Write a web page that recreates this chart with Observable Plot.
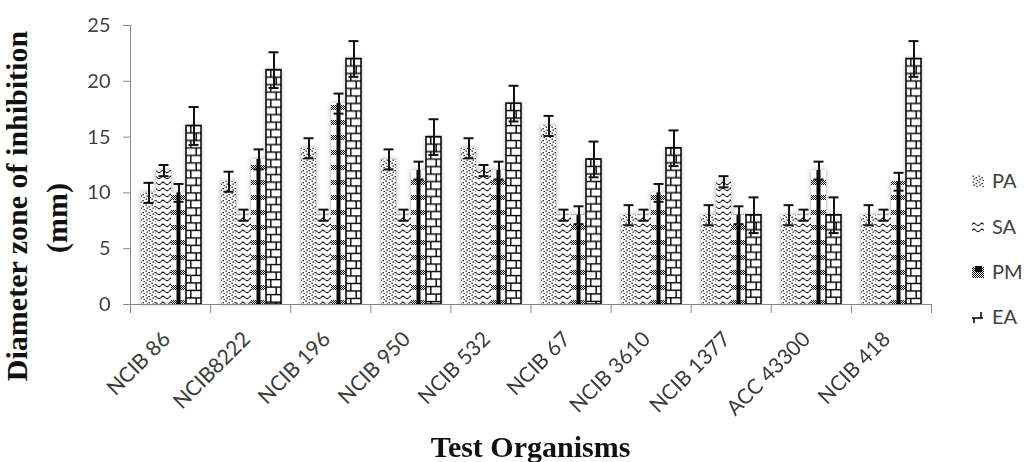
<!DOCTYPE html>
<html><head><meta charset="utf-8">
<script src="https://cdn.jsdelivr.net/npm/d3@7"></script>
<script src="https://cdn.jsdelivr.net/npm/@observablehq/plot@0.6"></script>
<style>body{margin:0;background:#fff} svg{display:block}</style>
</head><body><div id="chart"></div>
<script>
// ---- data ----
const organisms = ["NCIB 86","NCIB8222","NCIB 196","NCIB 950","NCIB 532","NCIB 67","NCIB 3610","NCIB 1377","ACC 43300","NCIB 418"];
const series = ["PA","SA","PM","EA"];
const PA = [10, 11, 14, 13, 14, 16, 8, 8, 8, 8];
const SA = [12, 8, 8, 8, 12, 8, 8, 11, 8, 8];
const PM = [10, 13, 18, 12, 12, 8, 10, 8, 12, 11];
const EA = [16, 21, 22, 15, 18, 13, 14, 8, 8, 22];
const PA_err = [0.9, 0.9, 0.9, 0.9, 0.9, 0.9, 0.9, 0.9, 0.9, 0.9];
const SA_err = [0.5, 0.5, 0.5, 0.5, 0.5, 0.5, 0.5, 0.5, 0.5, 0.5];
const PM_err = [0.8, 0.9, 0.9, 0.8, 0.8, 0.8, 0.8, 0.8, 0.8, 0.8];
const EA_err = [1.7, 1.6, 1.6, 1.6, 1.6, 1.6, 1.6, 1.6, 1.6, 1.6];
const yTicks = [0, 5, 10, 15, 20, 25];
const xTitle = "Test Organisms";
const yTitle = ["Diameter zone of inhibition", "(mm)"];

const table = {PA:[PA,PA_err], SA:[SA,SA_err], PM:[PM,PM_err], EA:[EA,EA_err]};
const data = [];
organisms.forEach((o, i) => series.forEach(s => data.push({organism: o, series: s, value: table[s][0][i], err: table[s][1][i]})));
const fills = {PA: "url(#pat-pa)", SA: "url(#pat-sa)", PM: "url(#pat-pm)", EA: "url(#pat-ea)"};

const chart = Plot.plot({
  width: 1025, height: 462,
  marginLeft: 130, marginRight: 94, marginTop: 25, marginBottom: 158,
  style: {fontFamily: "Lato", background: "#fff", overflow: "visible"},
  fx: {domain: organisms, padding: 0, axis: null},
  x: {domain: series, paddingInner: 0, paddingOuter: 2/3, axis: null},
  y: {domain: [0, 25], axis: null},
  color: {type: "ordinal", domain: series, range: series.map(s => fills[s])},
  marks: [
    Plot.barY(data, {fx: "organism", x: "series", y: "value", fill: "series"}),
    Plot.barY(data.filter(d => d.series === "PM"), {fx: "organism", x: "series", y: "value", fill: "#000", insetLeft: 5.5, insetRight: 5.5}),
    Plot.barY(data.filter(d => d.series === "EA"), {fx: "organism", x: "series", y: "value", fill: "none", stroke: "#000", strokeWidth: 1.5}),
    Plot.ruleX(data, {fx: "organism", x: "series", y1: d => d.value - d.err, y2: d => d.value + d.err, stroke: "#111", strokeWidth: 2}),
    Plot.tickY(data, {fx: "organism", x: "series", y: d => d.value + d.err, stroke: "#111", strokeWidth: 2, insetLeft: 2.5, insetRight: 2.5}),
    Plot.tickY(data, {fx: "organism", x: "series", y: d => d.value - d.err, stroke: "#111", strokeWidth: 2, insetLeft: 2.5, insetRight: 2.5}),
    Plot.axisY({ticks: yTicks, tickSize: 8, tickPadding: 13, stroke: "#888", fill: "#404040", fontSize: 20, label: null}),
    Plot.text(organisms, {fx: d => d, text: d => d, frameAnchor: "bottom", rotate: -45, textAnchor: "end", dx: 0, dy: 36, fontSize: 21, fill: "#3a3a3a"})
  ]
});
document.getElementById("chart").appendChild(chart);

// ---- decorations derived from the plot's scales ----
const svg = d3.select(chart);
const ys = chart.scale("y"), fxs = chart.scale("fx");
const y = d3.scaleLinear().domain(ys.domain).range(ys.range);
const fx = d3.scaleBand().domain(fxs.domain).range(fxs.range).padding(0);
const defs = svg.insert("defs", ":first-child");

// PA dots
const pa = defs.append("pattern").attr("id", "pat-pa").attr("patternUnits", "userSpaceOnUse").attr("width", 6).attr("height", 6);
pa.append("rect").attr("width", 6).attr("height", 6).attr("fill", "#fff");
[[0.5,0.5],[3.5,2],[1.5,3.5],[4.5,5]].forEach(([cx, cy]) => pa.append("rect").attr("x", cx).attr("y", cy).attr("width", 1.3).attr("height", 1.3).attr("fill", "#000"));
// SA waves
const sa = defs.append("pattern").attr("id", "pat-sa").attr("patternUnits", "userSpaceOnUse").attr("width", 8).attr("height", 6);
sa.append("rect").attr("width", 8).attr("height", 6).attr("fill", "#fff");
sa.append("path").attr("d", "M0.3,3.5 Q2,0.8 3.7,3.5 M4.3,3.5 Q6,6 7.7,3.5").attr("fill", "none").attr("stroke", "#000").attr("stroke-width", 1.1);
// PM checker bands
const pm = defs.append("pattern").attr("id", "pat-pm").attr("patternUnits", "userSpaceOnUse").attr("width", 2).attr("height", 15);
pm.append("rect").attr("width", 2).attr("height", 15).attr("fill", "#fff");
for (let r = 0; r < 5; r++) pm.append("rect").attr("x", r % 2).attr("y", r).attr("width", 1).attr("height", 1).attr("fill", "#000");
// EA bricks, one tile per bar
const eaRect = svg.selectAll("rect").filter(function() { return this.getAttribute("fill") === "url(#pat-ea)"; }).node();
const bw = eaRect ? +eaRect.getAttribute("width") : 15;
const ea = defs.append("pattern").attr("id", "pat-ea").attr("patternUnits", "objectBoundingBox").attr("width", 1).attr("height", 1);
ea.append("rect").attr("width", bw).attr("height", 400).attr("fill", "#fff");
const rh = 7.5;
for (let r = 0; r < 50; r++) {
  ea.append("line").attr("x1", 0).attr("x2", bw).attr("y1", r * rh).attr("y2", r * rh).attr("stroke", "#000").attr("stroke-width", 1.4);
  const vx = (r % 2 ? 0.68 : 0.32) * bw;
  ea.append("line").attr("x1", vx).attr("x2", vx).attr("y1", r * rh).attr("y2", (r + 1) * rh).attr("stroke", "#000").attr("stroke-width", 1.4);
}
// legend patterns
const ls = defs.append("pattern").attr("id", "leg-pm").attr("patternUnits", "userSpaceOnUse").attr("width", 2).attr("height", 2);
ls.append("rect").attr("width", 2).attr("height", 2).attr("fill", "#fff");
ls.append("rect").attr("width", 1).attr("height", 1).attr("fill", "#000");
ls.append("rect").attr("x", 1).attr("y", 1).attr("width", 1).attr("height", 1).attr("fill", "#000");

// glow on bars
svg.select('g[aria-label="bar"]').style("filter", "drop-shadow(0px 0px 2px rgba(0,0,0,0.35))");

// axis lines
const ax = svg.append("g").attr("stroke", "#888").attr("stroke-width", 1);
const x0 = fxs.range[0], x1 = fxs.range[1];
ax.append("line").attr("x1", x0 + 0.5).attr("x2", x0 + 0.5).attr("y1", y(25)).attr("y2", y(0));
ax.append("line").attr("x1", x0).attr("x2", x1).attr("y1", y(0) + 0.5).attr("y2", y(0) + 0.5);
[...organisms.map(o => fx(o)), x1].forEach(bx => ax.append("line").attr("x1", bx + 0.5).attr("x2", bx + 0.5).attr("y1", y(0)).attr("y2", y(0) + 9));

// titles
const serif = "'Liberation Serif','Times New Roman',serif";
svg.append("text").attr("x", (x0 + x1) / 2).attr("y", 457).attr("text-anchor", "middle")
  .attr("font-family", serif).attr("font-weight", "bold").attr("font-size", 30).attr("fill", "#111").text(xTitle);
svg.append("text").attr("transform", "translate(27,206) rotate(-90)").attr("text-anchor", "middle")
  .attr("font-family", serif).attr("font-weight", "bold").attr("font-size", 30).attr("fill", "#111").text(yTitle[0]);
svg.append("text").attr("transform", "translate(67,218) rotate(-90)").attr("text-anchor", "middle")
  .attr("font-family", serif).attr("font-weight", "bold").attr("font-size", 30).attr("fill", "#111").text(yTitle[1]);

// legend
const lg = svg.append("g").attr("font-family", "Lato").attr("font-size", 20).attr("fill", "#404040").attr("text-anchor", "start");
const legY = [181, 227, 272, 317];
series.forEach((s, i) => {
  const g = lg.append("g").attr("transform", `translate(972,${legY[i]})`);
  if (s === "PA") g.append("rect").attr("x", 0).attr("y", -6).attr("width", 12).attr("height", 12).attr("fill", "url(#pat-pa)");
  if (s === "SA") g.append("rect").attr("x", 0).attr("y", -6).attr("width", 12).attr("height", 12).attr("fill", "url(#pat-sa)");
  if (s === "PM") {
    g.append("rect").attr("x", 0).attr("y", -5).attr("width", 12).attr("height", 11).attr("fill", "url(#leg-pm)");
    g.append("rect").attr("x", 3).attr("y", -6).attr("width", 7).attr("height", 6).attr("fill", "#000");
  }
  if (s === "EA") g.append("path").attr("d", "M0,1 H11 M9,-5 V1 M2,1 V6").attr("fill", "none").attr("stroke", "#000").attr("stroke-width", 1.5);
  g.append("text").attr("x", 20).attr("y", 7).attr("text-anchor", "start").text(s);
});
</script></body></html>
